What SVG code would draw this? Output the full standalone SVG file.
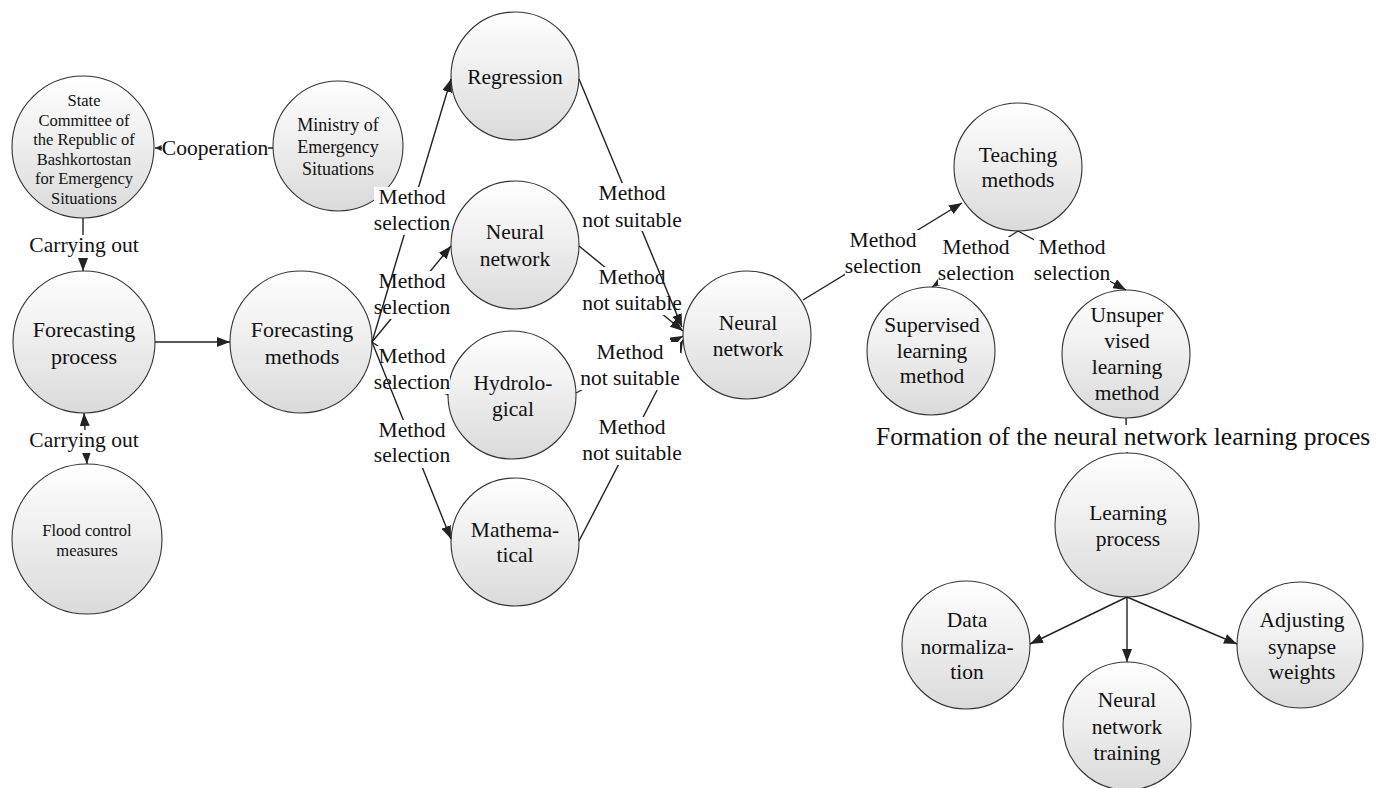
<svg xmlns="http://www.w3.org/2000/svg" width="1376" height="788" viewBox="0 0 1376 788">
<style>
.nd{fill:url(#g);stroke:#333;stroke-width:1.1}
text{font-family:"Liberation Serif","Times New Roman",serif;fill:#111;text-anchor:middle}
.t{font-size:21.5px}
.s{font-size:16.5px}
.m{font-size:18px}
.ln{fill:none;stroke:#222;stroke-width:1.4}
.a{marker-end:url(#ar)}
.bg{fill:#fff}
.lb{font-size:21.5px}
</style>
<defs>
<linearGradient id="g" x1="0" y1="0" x2="0" y2="1">
<stop offset="0" stop-color="#ffffff"/>
<stop offset="0.5" stop-color="#ededed"/>
<stop offset="1" stop-color="#dadada"/>
</linearGradient>
<marker id="ar" markerUnits="userSpaceOnUse" markerWidth="14" markerHeight="10" refX="13" refY="5" orient="auto-start-reverse">
<path d="M0,0 L13,5 L0,10 Z" fill="#222"/>
</marker>
<marker id="sm" markerUnits="userSpaceOnUse" markerWidth="7" markerHeight="6" refX="6.5" refY="3" orient="auto">
<path d="M0,0 L6.5,3 L0,6 Z" fill="#222"/>
</marker>
</defs>
<rect width="1376" height="788" fill="#fff"/>

<g id="n-state"><circle class="nd" cx="83" cy="147" r="71"/>
<text class="s" x="84" y="106">State</text><text class="s" x="84" y="125.5">Committee of</text><text class="s" x="84" y="145">the Republic of</text><text class="s" x="84" y="164.5">Bashkortostan</text><text class="s" x="84" y="184">for Emergency</text><text class="s" x="84" y="203.5">Situations</text></g>
<g id="n-ministry"><circle class="nd" cx="338" cy="146" r="65"/>
<text class="m" x="338" y="131">Ministry of</text><text class="m" x="338" y="153">Emergency</text><text class="m" x="338" y="174.5">Situations</text></g>
<g id="n-fproc"><circle class="nd" cx="84" cy="342" r="71"/>
<text class="t" x="84" y="337" style="font-size:22px">Forecasting</text><text class="t" x="84" y="364" style="font-size:22px">process</text></g>
<g id="n-fmeth"><circle class="nd" cx="301" cy="342" r="71"/>
<text class="t" x="302" y="337" style="font-size:22px">Forecasting</text><text class="t" x="302" y="364" style="font-size:22px">methods</text></g>
<g id="n-flood"><circle class="nd" cx="87" cy="539" r="75"/>
<text class="s" x="87" y="535.5">Flood control</text><text class="s" x="87" y="555.5">measures</text></g>
<g id="n-regr"><circle class="nd" cx="515" cy="76" r="64"/>
<text class="t" x="515" y="84">Regression</text></g>
<g id="n-nnmid"><circle class="nd" cx="515" cy="245" r="64"/>
<text class="t" x="515" y="239">Neural</text><text class="t" x="515" y="266">network</text></g>
<g id="n-hydro"><circle class="nd" cx="512" cy="395" r="64"/>
<text class="t" x="513" y="390">Hydrolo-</text><text class="t" x="513" y="416">gical</text></g>
<g id="n-math"><circle class="nd" cx="515" cy="542" r="64"/>
<text class="t" x="515" y="537">Mathema-</text><text class="t" x="515" y="562">tical</text></g>
<g id="n-nn"><circle class="nd" cx="747" cy="335" r="64"/>
<text class="t" x="748" y="330">Neural</text><text class="t" x="748" y="356">network</text></g>
<g id="n-teach"><circle class="nd" cx="1018" cy="167" r="64"/>
<text class="t" x="1018" y="162">Teaching</text><text class="t" x="1018" y="187">methods</text></g>
<g id="n-sup"><circle class="nd" cx="931" cy="351" r="64"/>
<text class="t" x="932" y="332">Supervised</text><text class="t" x="932" y="358">learning</text><text class="t" x="932" y="383">method</text></g>
<g id="n-unsup"><circle class="nd" cx="1126" cy="354" r="64"/>
<text class="t" x="1127" y="322">Unsuper</text><text class="t" x="1127" y="348">vised</text><text class="t" x="1127" y="374">learning</text><text class="t" x="1127" y="400">method</text></g>
<g id="n-learn"><circle class="nd" cx="1127" cy="525" r="72"/>
<text class="t" x="1128" y="520">Learning</text><text class="t" x="1128" y="546">process</text></g>
<g id="n-data"><circle class="nd" cx="966" cy="645" r="64"/>
<text class="t" x="967" y="627">Data</text><text class="t" x="967" y="654">normaliza-</text><text class="t" x="967" y="679">tion</text></g>
<g id="n-train"><circle class="nd" cx="1127" cy="726" r="64"/>
<text class="t" x="1127" y="707">Neural</text><text class="t" x="1127" y="734">network</text><text class="t" x="1127" y="760">training</text></g>
<g id="n-adj"><circle class="nd" cx="1300" cy="645" r="63"/>
<text class="t" x="1302" y="627">Adjusting</text><text class="t" x="1302" y="654">synapse</text><text class="t" x="1302" y="679">weights</text></g>

<g id="connectors">
<path class="ln" d="M273,148 L155,148" marker-end="url(#sm)"/>
<rect class="bg" x="162" y="137" width="106" height="25"/>
<text class="lb" x="215" y="155">Cooperation</text>

<path class="ln a" d="M83,218 L83,271"/>
<rect class="bg" x="28" y="235" width="112" height="23"/>
<text class="lb" x="84" y="252">Carrying out</text>

<path class="ln a" d="M84,413 L87,464" marker-start="url(#ar)"/>
<rect class="bg" x="28" y="430" width="112" height="23"/>
<text class="lb" x="84" y="447">Carrying out</text>

<path class="ln a" d="M155,342 L230,342"/>

<path class="ln a" d="M372,342 L451,246"/>
<rect class="bg" x="374" y="271" width="76" height="48"/>
<text class="lb" x="412" y="288">Method</text><text class="lb" x="412" y="314">selection</text>

<path class="ln a" d="M372,342 L448,395"/>
<rect class="bg" x="374" y="346" width="76" height="48"/>
<text class="lb" x="412" y="363">Method</text><text class="lb" x="412" y="389">selection</text>

<path class="ln a" d="M372,342 L451,79"/>
<rect class="bg" x="374" y="187" width="76" height="48"/>
<text class="lb" x="412" y="204">Method</text><text class="lb" x="412" y="230">selection</text>

<path class="ln a" d="M372,342 L451,539"/>
<rect class="bg" x="374" y="420" width="76" height="48"/>
<text class="lb" x="412" y="437">Method</text><text class="lb" x="412" y="462">selection</text>

<path class="ln a" d="M579,246 L683,331"/>
<rect class="bg" x="582" y="267" width="100" height="48"/>
<text class="lb" x="632" y="284">Method</text><text class="lb" x="632" y="310">not suitable</text>

<path class="ln a" d="M579,79 L682,327"/>
<rect class="bg" x="582" y="183" width="100" height="48"/>
<text class="lb" x="632" y="200">Method</text><text class="lb" x="632" y="227">not suitable</text>

<path class="ln a" d="M579,541 L683,340"/>
<rect class="bg" x="582" y="417" width="100" height="48"/>
<text class="lb" x="632" y="434">Method</text><text class="lb" x="632" y="460">not suitable</text>

<path class="ln a" d="M576,393 L683,336"/>
<rect class="bg" x="580" y="342" width="100" height="48"/>
<text class="lb" x="630" y="359">Method</text><text class="lb" x="630" y="385">not suitable</text>

<path class="ln a" d="M803,300 L962,203"/>
<rect class="bg" x="845" y="230" width="76" height="48"/>
<text class="lb" x="883" y="247">Method</text><text class="lb" x="883" y="273">selection</text>

<path class="ln a" d="M1018,231 L932,287"/>
<rect class="bg" x="938" y="237" width="76" height="48"/>
<text class="lb" x="976" y="254">Method</text><text class="lb" x="976" y="280">selection</text>

<path class="ln a" d="M1018,231 L1126,290"/>
<rect class="bg" x="1034" y="237" width="76" height="48"/>
<text class="lb" x="1072" y="254">Method</text><text class="lb" x="1072" y="280">selection</text>

<path class="ln" d="M1126,418 L1127,453"/>
<rect class="bg" x="874" y="425" width="500" height="27"/>
<text x="876" y="445" style="font-size:25.5px;text-anchor:start">Formation of the neural network learning proces</text>

<path class="ln a" d="M1127,597 L1030,644"/>
<path class="ln a" d="M1127,597 L1127,662"/>
<path class="ln a" d="M1127,597 L1237,644"/>
</g>
</svg>
